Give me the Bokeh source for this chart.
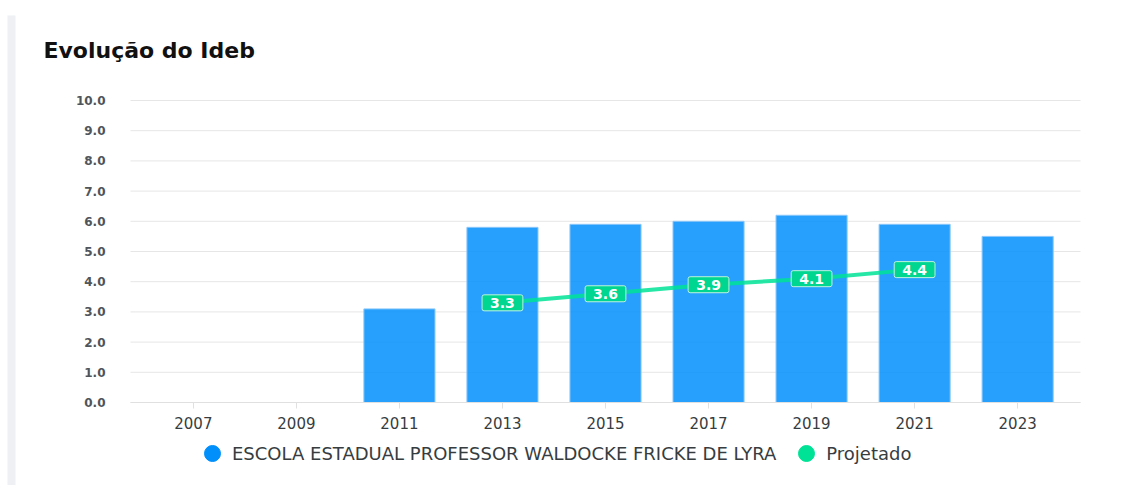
from bokeh.plotting import figure
from bokeh.models import (Range1d, FixedTicker, NumeralTickFormatter, Label, Legend,
                          LegendItem, BoxAnnotation)
from bokeh.embed import file_html
from bokeh.resources import INLINE

# ---- data ----
years = ["2007", "2009", "2011", "2013", "2015", "2017", "2019", "2021", "2023"]
ideb = [None, None, 3.1, 5.8, 5.9, 6.0, 6.2, 5.9, 5.5]
proj_years = ["2013", "2015", "2017", "2019", "2021"]
proj_vals = [3.3, 3.6, 3.9, 4.1, 4.4]
y_ticks = [0, 1, 2, 3, 4, 5, 6, 7, 8, 9, 10]
school_name = "ESCOLA ESTADUAL PROFESSOR WALDOCKE FRICKE DE LYRA"
proj_name = "Projetado"
title_text = "Evolução do Ideb"

FONT = "DejaVu Sans"
BLUE = "#008FFB"
GREEN = "#00E396"

# ---- layout (pixels of the canvas) ----
W, H = 1118, 485
PLOT_L, PLOT_R, PLOT_T, PLOT_B = 130, 1080, 100, 402
PAD = 0.61  # category padding at both ends of the x scale
Y_MIN, Y_MAX = y_ticks[0], y_ticks[-1]

n = len(years)
x_lo, x_hi = -PAD, n - 1 + PAD
ppx = (PLOT_R - PLOT_L) / (x_hi - x_lo)
ppy = (PLOT_B - PLOT_T) / (Y_MAX - Y_MIN)
x_range = Range1d(x_lo - PLOT_L / ppx, x_hi + (W - PLOT_R) / ppx)
y_range = Range1d(Y_MIN - (H - PLOT_B) / ppy, Y_MAX + PLOT_T / ppy)

idx = {y: i for i, y in enumerate(years)}
bar_x = [idx[y] for y, v in zip(years, ideb) if v is not None]
bar_top = [v for v in ideb if v is not None]
proj_x = [idx[y] for y in proj_years]

p = figure(width=W, height=H, output_backend="svg", toolbar_location=None,
           x_range=x_range, y_range=y_range,
           min_border_left=0, min_border_right=0, min_border_top=0, min_border_bottom=0)
p.outline_line_color = None
p.background_fill_color = "white"
p.border_fill_color = "white"
p.xgrid.visible = False
p.ygrid.visible = False

# left card border
p.add_layout(BoxAnnotation(left=7, right=15, left_units="screen", right_units="screen",
                           top=Y_MAX + (PLOT_T - 15) / ppy,
                           fill_color="#eef0f4", fill_alpha=1.0, line_color=None, level="underlay"))

# horizontal grid lines, from the y ticks
p.segment(x0=[x_lo] * len(y_ticks), x1=[x_hi] * len(y_ticks), y0=y_ticks, y1=y_ticks,
          line_color="#e6e6e6", line_width=1)

# axes pinned inside the canvas
p.xaxis.fixed_location = Y_MIN
p.xaxis.bounds = (x_lo, x_hi)
p.xaxis.ticker = FixedTicker(ticks=list(range(n)))
p.xaxis.major_label_overrides = {i: y for i, y in enumerate(years)}
p.xaxis.axis_line_color = "#e0e0e0"
p.xaxis.major_tick_line_color = "#e0e0e0"
p.xaxis.major_tick_out = 6
p.xaxis.major_tick_in = 0
p.xaxis.minor_tick_line_color = None
p.xaxis.major_label_standoff = 8
p.xaxis.major_label_text_font = FONT
p.xaxis.major_label_text_font_size = "15px"
p.xaxis.major_label_text_color = "#373d3f"

p.yaxis.fixed_location = x_lo
p.yaxis.bounds = (Y_MIN, Y_MAX)
p.yaxis.ticker = FixedTicker(ticks=y_ticks)
p.yaxis.formatter = NumeralTickFormatter(format="0.0")
p.yaxis.axis_line_color = None
p.yaxis.major_tick_line_color = None
p.yaxis.minor_tick_line_color = None
p.yaxis.major_label_standoff = 19
p.yaxis.major_label_text_font = FONT
p.yaxis.major_label_text_font_size = "12px"
p.yaxis.major_label_text_font_style = "bold"
p.yaxis.major_label_text_color = "#50555b"

# bars
p.vbar(x=bar_x, top=bar_top, bottom=0, width=0.69, fill_color=BLUE, fill_alpha=0.85,
       line_color="#8cc8fb", line_width=1)

# projected line
p.line(x=proj_x, y=proj_vals, line_color=GREEN, line_alpha=0.85, line_width=4)

for xv, yv in zip(proj_x, proj_vals):
    p.add_layout(Label(x=xv, y=yv, text=f"{yv:.1f}", text_align="center", text_baseline="middle",
                       text_font=FONT, text_font_size="14px", text_font_style="bold",
                       text_color="white", background_fill_color="#00D68F",
                       background_fill_alpha=1.0, border_line_color="#bff3df",
                       border_line_width=1, padding={"left": 8, "right": 8, "top": 3, "bottom": 3},
                       border_radius=2))

# title
p.add_layout(Label(x=43, y=H - 50, x_units="screen", y_units="screen", text=title_text,
                   text_font=FONT, text_font_size="22px", text_font_style="bold",
                   text_color="#111111", text_baseline="middle", text_align="left"))

# legend
nan = float("nan")
r1 = p.scatter(x=[nan], y=[nan], marker="circle", fill_color=BLUE, line_color=BLUE)
r2 = p.scatter(x=[nan], y=[nan], marker="circle", fill_color=GREEN, line_color=GREEN)
legend = Legend(items=[LegendItem(label=school_name, renderers=[r1]),
                       LegendItem(label=proj_name, renderers=[r2])],
                location=(192, 12), orientation="horizontal",
                glyph_width=40, glyph_height=40, label_standoff=0, spacing=10,
                padding=0, margin=0, border_line_color=None, background_fill_alpha=0,
                label_text_font=FONT, label_text_font_size="18px", label_text_color="#373d3f")
p.add_layout(legend, "center")

open("out.html", "w").write(file_html(p, INLINE))
